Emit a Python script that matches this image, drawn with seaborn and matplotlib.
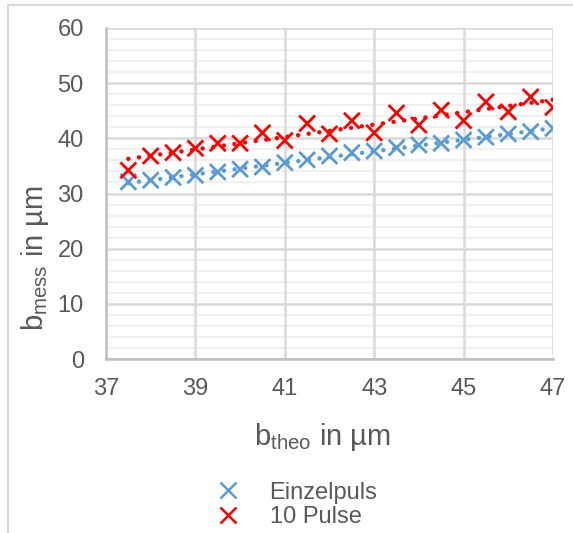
import numpy as np
import pandas as pd
import matplotlib
matplotlib.use("Agg")
import matplotlib.pyplot as plt
from matplotlib.lines import Line2D
import seaborn as sns

# Theoretical widths (µm)
b_theo = [37.5, 38.0, 38.5, 39.0, 39.5, 40.0, 40.5, 41.0, 41.5, 42.0,
          42.5, 43.0, 43.5, 44.0, 44.5, 45.0, 45.5, 46.0, 46.5, 47.0]
# Measured widths (µm)
einzelpuls = [32.1, 32.4, 32.9, 33.3, 33.9, 34.4, 34.8, 35.6, 36.1, 36.8,
              37.4, 37.7, 38.3, 38.8, 39.1, 39.7, 40.2, 40.8, 41.2, 41.8]
zehn_pulse = [34.2, 36.8, 37.4, 38.2, 39.1, 39.1, 41.0, 39.6, 42.7, 40.8,
              43.2, 41.0, 44.6, 42.4, 45.1, 43.2, 46.6, 44.8, 47.5, 45.6]

series_names = ["Einzelpuls", "10 Pulse"]
series_colors = ["#5B9BD5", "#FF0000"]
x_ticks = [37, 39, 41, 43, 45, 47]
y_ticks = [0, 10, 20, 30, 40, 50, 60]

df = pd.DataFrame({
    "b_theo": b_theo * 2,
    "b_mess": einzelpuls + zehn_pulse,
    "Serie": [series_names[0]] * len(b_theo) + [series_names[1]] * len(b_theo),
})

sns.set_theme(style="white")
plt.rcParams["font.family"] = ["Liberation Sans", "DejaVu Sans"]
plt.rcParams["mathtext.default"] = "regular"

fig = plt.figure(figsize=(5.73, 5.33), dpi=100)
ax = fig.add_axes([106 / 573, 1 - 359 / 533, (553 - 106) / 573, (359 - 28) / 533])

grey_text = "#595959"

# Grid: minor every 2 µm on y, major every 10 µm on y and 2 µm on x
for v in np.arange(0, 61, 2):
    if v % 10:
        ax.axhline(v, color="#f0f0f0", lw=1.6, zorder=0)
for v in y_ticks:
    ax.axhline(v, color="#d9d9d9", lw=1.8, zorder=0.5)
for v in x_ticks:
    ax.axvline(v, color="#d9d9d9", lw=1.8, zorder=0.5)

# Linear trend lines (round dots)
for name, col in zip(series_names, series_colors):
    sub = df[df["Serie"] == name]
    sns.regplot(data=sub, x="b_theo", y="b_mess", ax=ax, scatter=False, ci=None,
                truncate=True, color=col,
                line_kws=dict(ls=(0, (0.01, 2.4)), lw=3.2, dash_capstyle="round",
                              solid_capstyle="round", zorder=2))

sns.scatterplot(data=df, x="b_theo", y="b_mess", hue="Serie", hue_order=series_names,
                palette=series_colors, marker="x", s=130, linewidth=2.0, ax=ax,
                legend=False, zorder=3)

ax.set_xlim(37, 47)
ax.set_ylim(0, 60)
ax.set_xticks(x_ticks)
ax.set_yticks(y_ticks)
ax.tick_params(axis="x", labelsize=17, colors=grey_text, length=0, pad=14)
ax.tick_params(axis="y", labelsize=17, colors=grey_text, length=0, pad=16)
for sp in ["top", "right"]:
    ax.spines[sp].set_visible(False)
for sp in ["left", "bottom"]:
    ax.spines[sp].set_color("#bfbfbf")
    ax.spines[sp].set_linewidth(1.8)
ax.set_xlabel("")
ax.set_ylabel("")

fig.text(322 / 573, 1 - 437 / 533, r"b$_{theo}$ in µm", fontsize=21, color=grey_text,
         ha="center", va="center")
fig.text(35 / 573, 1 - 258 / 533, r"b$_{mess}$ in µm", fontsize=21, color=grey_text,
         ha="center", va="center", rotation=90)

handles = [Line2D([], [], ls="none", marker="x", color=c, markersize=12, markeredgewidth=1.8)
           for c in series_colors]
fig.legend(handles, series_names, loc="center left", bbox_to_anchor=(211 / 573, 1 - 505 / 533),
           frameon=False, fontsize=17, labelcolor=grey_text, handlelength=1.4,
           handletextpad=1.08, labelspacing=0.12, borderpad=0, borderaxespad=0)

# Chart frame edges
fig.add_artist(Line2D([8 / 573, 8 / 573], [0, 1 - 5 / 533], transform=fig.transFigure,
                      color="#d9d9d9", lw=1.5))
fig.add_artist(Line2D([8 / 573, 1], [1 - 5 / 533, 1 - 5 / 533], transform=fig.transFigure,
                      color="#d9d9d9", lw=1.5))

fig.savefig("out.png", dpi=100, facecolor="white")
